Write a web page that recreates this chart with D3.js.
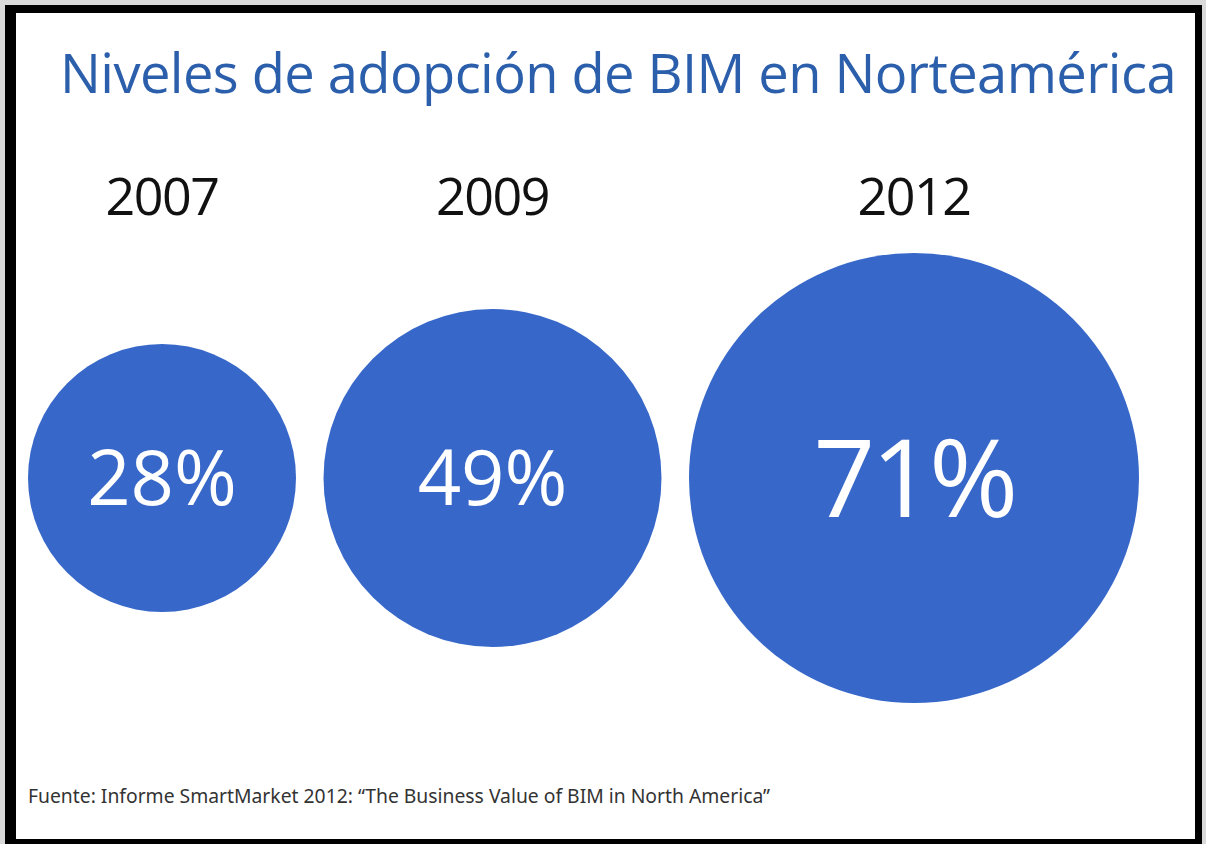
<!DOCTYPE html>
<html>
<head>
<meta charset="utf-8">
<script src="https://cdn.jsdelivr.net/npm/d3@7"></script>
<style>
  html, body { margin: 0; padding: 0; background: #ffffff; }
  svg { display: block; }
</style>
</head>
<body>
<div id="chart"></div>
<script>
// data
const years = ['2007', '2009', '2012']
const adoption = [28, 49, 71]
const titleText = 'Niveles de adopción de BIM en Norteamérica'
const sourceText = 'Fuente: Informe SmartMarket 2012: \u201CThe Business Value of BIM in North America\u201D'

const width = 1206
const height = 844
const COLORS = {
  frame: '#000000',
  outside: '#d9d9d9',
  title: '#2c5fab',
  bubble: '#3768c9',
  year: '#111111',
  source: '#333333'
}

const svg = d3.select('#chart')
  .append('svg')
  .attr('width', width)
  .attr('height', height)

// 바깥 배경 + 검은 테두리
svg.append('rect').attr('width', width).attr('height', height).attr('fill', COLORS.outside)
svg.append('rect').attr('x', 5).attr('y', 5).attr('width', 1197).attr('height', 845).attr('fill', COLORS.frame)
svg.append('rect').attr('x', 16).attr('y', 13).attr('width', 1179).attr('height', 826).attr('fill', '#ffffff')

// 제목
svg.append('text')
  .attr('x', 60)
  .attr('y', 93)
  .attr('font-family', '"Open Sans", sans-serif')
  .attr('font-size', 55)
  .attr('letter-spacing', -0.6)
  .attr('fill', COLORS.title)
  .attr('textLength', 1116)
  .attr('lengthAdjust', 'spacingAndGlyphs')
  .text(titleText)

// radius scale (piecewise)
const rScale = d3.scaleLinear()
  .domain([28, 49, 71])
  .range([134, 169, 225])

const fontScale = d3.scaleLinear()
  .domain([28, 49, 71])
  .range([76, 76, 108])

const gap = 27.5
const left = 28
const cy = 478

// layout: bubbles placed side by side with a constant gap
const nodes = []
let cursor = left
adoption.forEach((v, i) => {
  const r = rScale(v)
  nodes.push({ year: years[i], value: v, r: r, cx: cursor + r })
  cursor += 2 * r + gap
})

const g = svg.append('g')

g.selectAll('circle')
  .data(nodes)
  .join('circle')
  .attr('cx', d => d.cx)
  .attr('cy', cy)
  .attr('r', d => d.r)
  .attr('fill', COLORS.bubble)

g.selectAll('text.value')
  .data(nodes)
  .join('text')
  .attr('class', 'value')
  .attr('x', d => d.cx)
  .attr('y', d => cy + fontScale(d.value) * 0.36)
  .attr('text-anchor', 'middle')
  .attr('font-family', '"Open Sans", sans-serif')
  .attr('font-size', d => fontScale(d.value))
  .attr('letter-spacing', d => d.value > 60 ? -4 : 0)
  .attr('fill', '#ffffff')
  .text(d => d.value + '%')

g.selectAll('text.year')
  .data(nodes)
  .join('text')
  .attr('class', 'year')
  .attr('x', d => d.cx)
  .attr('y', 215)
  .attr('text-anchor', 'middle')
  .attr('font-family', '"Open Sans", sans-serif')
  .attr('font-size', 52)
  .attr('letter-spacing', -1.5)
  .attr('fill', COLORS.year)
  .text(d => d.year)

// 출처
svg.append('text')
  .attr('x', 28)
  .attr('y', 803)
  .attr('font-family', '"Noto Sans", sans-serif')
  .attr('font-size', 20)
  .attr('fill', COLORS.source)
  .attr('textLength', 742)
  .attr('lengthAdjust', 'spacingAndGlyphs')
  .text(sourceText)
</script>
</body>
</html>
